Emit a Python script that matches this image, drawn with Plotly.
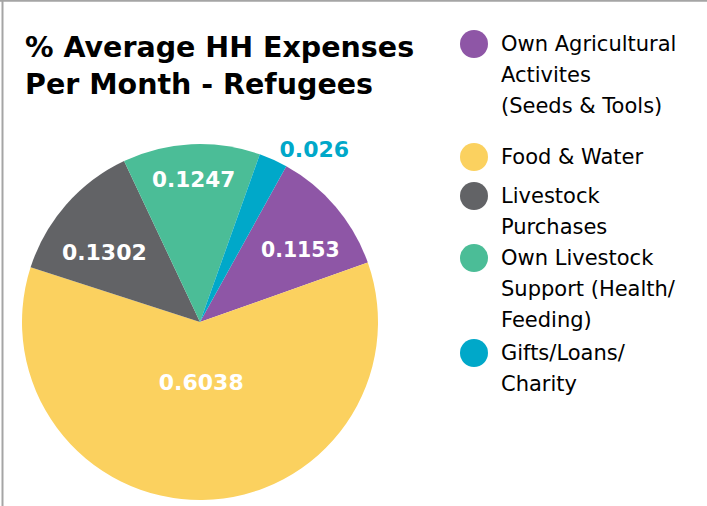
import plotly.graph_objects as go

W, H = 707, 506

categories = [
    "Own Agricultural Activites (Seeds & Tools)",
    "Food & Water",
    "Livestock Purchases",
    "Own Livestock Support (Health/Feeding)",
    "Gifts/Loans/Charity",
]
values = [0.1153, 0.6038, 0.1302, 0.1247, 0.026]
value_labels = ["0.1153", "0.6038", "0.1302", "0.1247", "0.026"]
colors = ["#8E56A6", "#FBD15F", "#626366", "#4BBD97", "#00A8C9"]
legend_lines = [
    ["Own Agricultural", "Activites", "(Seeds & Tools)"],
    ["Food & Water"],
    ["Livestock", "Purchases"],
    ["Own Livestock", "Support (Health/", "Feeding)"],
    ["Gifts/Loans/", "Charity"],
]
title_lines = ["% Average HH Expenses", "Per Month - Refugees"]

FONT = "DejaVu Sans"


def px(x):
    return x / W


def py(y):
    return 1 - y / H


textpos = ["inside", "inside", "inside", "inside", "outside"]
textcolors = ["white", "white", "white", "white", colors[4]]
# nudge label placement with blank padding lines (above pushes down, below pushes up)
pad_above = [1, 0, 1, 0, 0]
pad_below = [0, 2, 0, 1, 0]
slice_text = [
    " <br>" * pad_above[i] + t + "<br> " * pad_below[i]
    for i, t in enumerate(value_labels)
]

fig = go.Figure()
fig.add_trace(go.Pie(
    labels=categories,
    values=values,
    text=slice_text,
    textinfo="text",
    textposition=textpos,
    insidetextorientation="horizontal",
    textfont=dict(family=FONT, size=22, color=textcolors, weight="bold"),
    marker=dict(colors=colors, line=dict(width=0)),
    sort=False,
    direction="clockwise",
    rotation=29,
    showlegend=False,
    hoverinfo="label+value",
    domain=dict(x=[px(22), px(378)], y=[py(500), py(144)]),
))

annotations = []
# title
for i, line in enumerate(title_lines):
    annotations.append(dict(
        text=line, x=px(23), y=py(47 + 37 * i), xref="paper", yref="paper",
        xanchor="left", yanchor="middle", showarrow=False,
        font=dict(family=FONT, size=28.5, color="black", weight="bold"),
    ))

shapes = []
# legend
starts = [44, 157, 196, 258, 353]
spacing = 31
for k, lines in enumerate(legend_lines):
    cy = starts[k]
    r = 14
    shapes.append(dict(
        type="circle", xref="paper", yref="paper",
        x0=px(474 - r), x1=px(474 + r), y0=py(cy + r), y1=py(cy - r),
        fillcolor=colors[k], line=dict(width=0),
    ))
    for j, line in enumerate(lines):
        annotations.append(dict(
            text=line, x=px(499), y=py(cy + spacing * j), xref="paper", yref="paper",
            xanchor="left", yanchor="middle", showarrow=False,
            font=dict(family=FONT, size=21, color="black"),
        ))

# frame lines
shapes.append(dict(type="line", xref="paper", yref="paper", x0=px(2.5), x1=px(2.5), y0=0, y1=1,
                   line=dict(color="#a5a5a5", width=2)))
shapes.append(dict(type="line", xref="paper", yref="paper", x0=0, x1=1, y0=py(0.8), y1=py(0.8),
                   line=dict(color="#a5a5a5", width=2)))

fig.update_layout(
    width=W, height=H,
    margin=dict(l=0, r=0, t=0, b=0),
    paper_bgcolor="white", plot_bgcolor="white",
    annotations=annotations, shapes=shapes,
    showlegend=False,
)

fig.write_html(
    "out.html",
    config={"displayModeBar": False},
    post_script="document.body.style.margin='0';document.body.style.overflow='hidden';",
)
